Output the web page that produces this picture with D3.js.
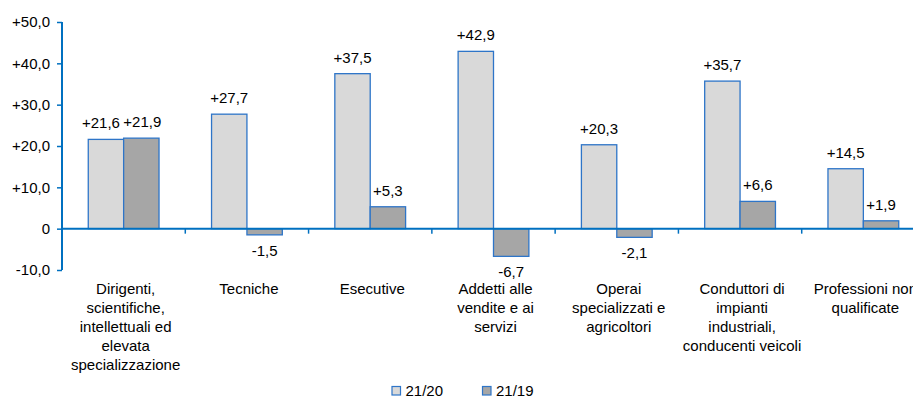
<!DOCTYPE html>
<html>
<head>
<meta charset="utf-8">
<script src="https://cdn.jsdelivr.net/npm/d3@7"></script>
<style>
  body { margin: 0; background: #fff; }
  svg { display: block; font-family: Arial, 'Liberation Sans', sans-serif; }
</style>
</head>
<body>
<div id="chart"></div>
<script>
const categories = [
  'Dirigenti,\nscientifiche,\nintellettuali ed\nelevata\nspecializzazione',
  'Tecniche',
  'Esecutive',
  'Addetti alle\nvendite e ai\nservizi',
  'Operai\nspecializzati e\nagricoltori',
  'Conduttori di\nimpianti\nindustriali,\nconducenti veicoli',
  'Professioni non\nqualificate'
]
const seriesNames = ['21/20', '21/19']
const values2120 = [21.6, 27.7, 37.5, 42.9, 20.3, 35.7, 14.5]
const values2119 = [21.9, -1.5, 5.3, -6.7, -2.1, 6.6, 1.9]
const yTicks = [-10, 0, 10, 20, 30, 40, 50]

const width = 913
const height = 399
const fills = ['#d9d9d9', '#a6a6a6']
const blue = '#0070c0'
const fontSize = '15px'

const fmt = v => v === 0 ? '0' : (v > 0 ? '+' : '-') + Math.abs(v).toFixed(1).replace('.', ',')

const svg = d3.select('#chart')
  .append('svg')
  .attr('width', width)
  .attr('height', height)

const x = d3.scaleBand()
  .domain(d3.range(categories.length))
  .range([62, 925])

const xs = d3.scaleBand()
  .domain(seriesNames)
  .range([x.bandwidth() * 0.213, x.bandwidth() * 0.787])

const y = d3.scaleLinear()
  .domain([-10, 50])
  .range([270, 22])

// y axis
const yAxis = svg.append('g')
  .attr('transform', 'translate(62,0)')
  .call(d3.axisLeft(y).tickValues(yTicks).tickSize(5).tickFormat(fmt))
yAxis.select('.domain').attr('stroke', blue).attr('stroke-width', 2).attr('d', `M0,${y(50)}V${y(-10)}`)
yAxis.selectAll('.tick line').attr('stroke', blue).attr('stroke-width', 1.5)
yAxis.selectAll('.tick text')
  .attr('x', -12)
  .attr('fill', '#000')
  .style('font-size', fontSize)
  .style('font-family', 'Arial, "Liberation Sans", sans-serif')

// bars
const data = []
categories.forEach((c, i) => {
  data.push({ i, s: seriesNames[0], v: values2120[i] })
  data.push({ i, s: seriesNames[1], v: values2119[i] })
})

svg.append('g')
  .selectAll('rect')
  .data(data)
  .enter()
  .append('rect')
  .attr('x', d => x(d.i) + xs(d.s))
  .attr('width', xs.bandwidth())
  .attr('y', d => y(Math.max(0, d.v)))
  .attr('height', d => Math.abs(y(d.v) - y(0)))
  .attr('fill', d => fills[seriesNames.indexOf(d.s)])
  .attr('stroke', '#2e75c8')
  .attr('stroke-width', 1.3)

// x axis line + ticks
svg.append('line')
  .attr('x1', 62).attr('x2', width)
  .attr('y1', y(0)).attr('y2', y(0))
  .attr('stroke', blue).attr('stroke-width', 2)

svg.append('g')
  .selectAll('line')
  .data(d3.range(1, categories.length + 1))
  .enter()
  .append('line')
  .attr('x1', d => x.range()[0] + d * x.step())
  .attr('x2', d => x.range()[0] + d * x.step())
  .attr('y1', y(0))
  .attr('y2', y(0) + 5)
  .attr('stroke', blue)
  .attr('stroke-width', 1.5)

// value labels (nudge apart when both sit above bars of similar height)
const nudge = d => {
  const a = values2120[d.i], b = values2119[d.i]
  if (a > 0 && b > 0 && Math.abs(y(a) - y(b)) < 16) return d.s === seriesNames[0] ? -5 : 1
  return 0
}

svg.append('g')
  .selectAll('text')
  .data(data)
  .enter()
  .append('text')
  .attr('x', d => x(d.i) + xs(d.s) + xs.bandwidth() / 2 + nudge(d))
  .attr('y', d => d.v >= 0 ? y(d.v) - 11 : y(d.v) + 21)
  .attr('text-anchor', 'middle')
  .style('font-size', fontSize)
  .attr('fill', '#000')
  .text(d => fmt(d.v))

// category labels
const catLabels = svg.append('g')
  .selectAll('text')
  .data(categories)
  .enter()
  .append('text')
  .attr('x', (d, i) => x(i) + x.bandwidth() / 2 + 2)
  .attr('y', 294)
  .attr('text-anchor', 'middle')
  .style('font-size', fontSize)
  .attr('fill', '#000')

catLabels.selectAll('tspan')
  .data(d => d.split('\n'))
  .enter()
  .append('tspan')
  .attr('x', function () { return d3.select(this.parentNode).attr('x') })
  .attr('dy', (d, i) => i === 0 ? 0 : 19)
  .text(d => d)

// legend
const legend = svg.append('g')
  .selectAll('g')
  .data(seriesNames)
  .enter()
  .append('g')
  .attr('transform', (d, i) => `translate(${392 + i * 90.5},386.5)`)

legend.append('rect')
  .attr('width', 8.5)
  .attr('height', 8.5)
  .attr('fill', (d, i) => fills[i])
  .attr('stroke', '#2e75c8')
  .attr('stroke-width', 1.2)

legend.append('text')
  .attr('x', 13.5)
  .attr('y', 9.5)
  .style('font-size', fontSize)
  .attr('fill', '#000')
  .text(d => d)
</script>
</body>
</html>
